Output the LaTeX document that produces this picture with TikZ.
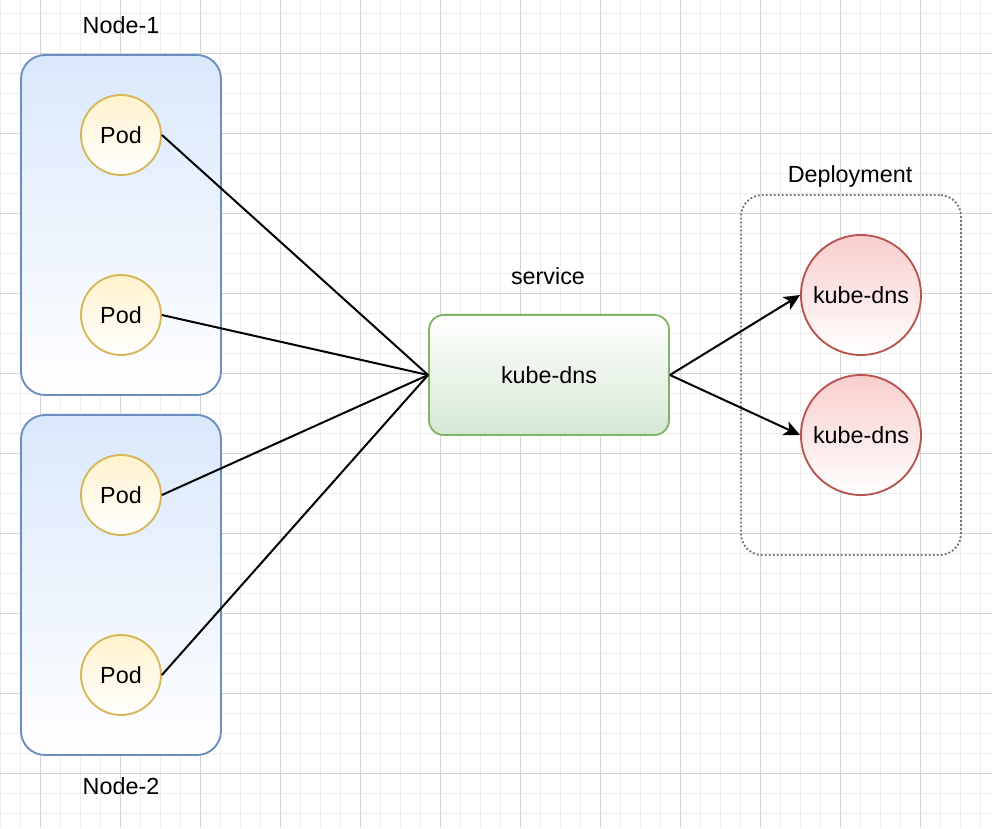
\documentclass[tikz,border=0pt]{standalone}
\usepackage{fontspec}
\setmainfont{Liberation Sans}
\usetikzlibrary{arrows.meta}
\definecolor{hosttop}{HTML}{DAE8FC}
\definecolor{hostline}{HTML}{6C8EBF}
\definecolor{podtop}{HTML}{FFF2CC}
\definecolor{podline}{HTML}{D6B656}
\definecolor{svcbottom}{HTML}{D5E8D4}
\definecolor{svcline}{HTML}{82B366}
\definecolor{kdtop}{HTML}{F8CECC}
\definecolor{kdline}{HTML}{B85450}
\definecolor{minorgridc}{HTML}{EDEDED}
\definecolor{majorgridc}{HTML}{D4D4D4}
\begin{document}
\begin{tikzpicture}[x=0.75pt,y=-0.75pt,
  lbl/.style={font=\fontsize{17.5}{20}\selectfont, inner sep=0pt},
  hostbox/.style={draw=hostline, line width=1.4pt, rounded corners=18pt, top color=hosttop, bottom color=white, minimum width=150pt, minimum height=255pt, inner sep=0pt},
  podnode/.style={circle, draw=podline, line width=1.4pt, top color=podtop, bottom color=white, minimum size=60pt, inner sep=0pt, font=\fontsize{17.5}{20}\selectfont},
  svcbox/.style={draw=svcline, line width=1.4pt, rounded corners=11pt, top color=white, bottom color=svcbottom, minimum width=180pt, minimum height=90pt, inner sep=0pt, font=\fontsize{17.5}{20}\selectfont},
  depbox/.style={draw=black!55, line width=1.4pt, dash pattern=on 1.4pt off 1.6pt, rounded corners=16pt, minimum width=165pt, minimum height=270pt, inner sep=0pt},
  kdnode/.style={circle, draw=kdline, line width=1.4pt, top color=kdtop, bottom color=white, minimum size=90pt, inner sep=0pt, font=\fontsize{17.5}{20}\selectfont},
  conn/.style={line width=1.5pt, black},
  arr/.style={conn, -{Stealth[length=12pt, width=11pt, inset=3pt]}},
  minorgrid/.style={draw=minorgridc, line width=0.75pt},
  majorgrid/.style={draw=majorgridc, line width=0.75pt}
]
\useasboundingbox (0,0) rectangle (992,828);
\fill[white] (0,0) rectangle (992,828);
\foreach \x in {0,20,...,980} \draw[minorgrid] (\x,0) -- (\x,828);
\foreach \y in {13,33,...,813} \draw[minorgrid] (0,\y) -- (992,\y);
\foreach \x in {40,120,...,920} \draw[majorgrid] (\x,0) -- (\x,828);
\foreach \y in {53,133,...,773} \draw[majorgrid] (0,\y) -- (992,\y);

\node[hostbox] (h1) at (121,225) {};
\node[hostbox] (h2) at (121,585) {};
\node[lbl] (h1l) at (121,25) {Node-1};
\node[lbl] (h2l) at (121,786) {Node-2};

\node[podnode] (p1) at (121,135) {Pod};
\node[podnode] (p2) at (121,315) {Pod};
\node[podnode] (p3) at (121,495) {Pod};
\node[podnode] (p4) at (121,675) {Pod};

\node[svcbox] (svc) at (549,375) {kube-dns};
\node[lbl] (svcl) at (548,276) {service};

\node[depbox] (dep) at (851,375) {};
\node[lbl] (depl) at (850,176) {Deployment};
\node[kdnode] (k1) at (861,295) {kube-dns};
\node[kdnode] (k2) at (861,435) {kube-dns};

\draw[conn] (p1.east) -- (svc.west);
\draw[conn] (p2.east) -- (svc.west);
\draw[conn] (p3.east) -- (svc.west);
\draw[conn] (p4.east) -- (svc.west);
\draw[arr] (svc.east) -- (k1.west);
\draw[arr] (svc.east) -- (k2.west);
\end{tikzpicture}
\end{document}
